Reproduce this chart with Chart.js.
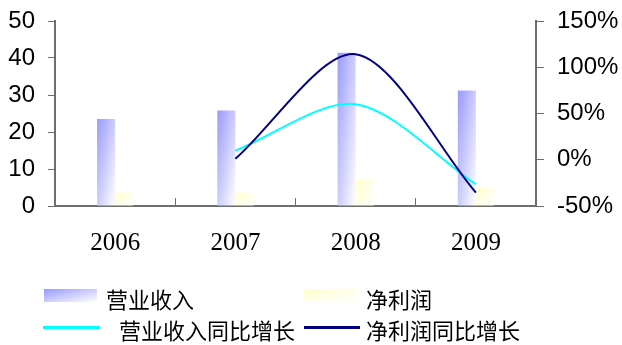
<!DOCTYPE html>
<html>
<head>
<meta charset="utf-8">
<script src="https://cdn.jsdelivr.net/npm/chart.js@4/dist/chart.umd.min.js"></script>
<style>
  html, body { margin: 0; padding: 0; background: #fff; }
  #wrap { position: relative; width: 622px; height: 345px; overflow: hidden; }
  #c { position: absolute; left: 0; top: 0; }
  .sw { position: absolute; }
  .lg-text { position: absolute; font-family: "Noto Sans CJK SC", sans-serif; font-size: 22px; line-height: 22px; color: #000; white-space: nowrap; }
</style>
</head>
<body>
<div id="wrap">
  <canvas id="c" width="622" height="345"></canvas>
</div>
<script>
// Yearly figures
const years = ['2006', '2007', '2008', '2009'];
const revenue = [23.5, 25.8, 41.4, 31.2];          // 营业收入
const netProfit = [3.6, 3.6, 7.2, 5.0];            // 净利润
const revenueGrowth = [null, 10, 60, -26.5];       // 营业收入同比增长 (%)
const profitGrowth = [null, 1, 114, -35.5];        // 净利润同比增长 (%)
const seriesNames = ['营业收入', '净利润', '营业收入同比增长', '净利润同比增长'];

const BAR_COLORS = ['#9999ff', '#ffffcc'];
const LINE_COLORS = ['#00ffff', '#000080'];
const AXIS_COLOR = '#6e6e6e';

// Corner-to-corner gradient for every bar: top-left colour fading to white at bottom-right
const barGradientPlugin = {
  id: 'barGradient',
  beforeDatasetsDraw(chart) {
    const ctx = chart.ctx;
    chart.data.datasets.forEach((ds, di) => {
      if (ds.type !== 'bar') return;
      const meta = chart.getDatasetMeta(di);
      meta.data.forEach(el => {
        const p = el.getProps(['x', 'y', 'base', 'width'], true);
        const w = p.width, h = Math.abs(p.base - p.y);
        if (!w || !h) return;
        const x0 = p.x - w / 2, y0 = Math.min(p.y, p.base);
        const k = 2 * w * h / (w * w + h * h);
        const g = ctx.createLinearGradient(x0, y0, x0 + k * h, y0 + k * w);
        g.addColorStop(0, ds.gradientFrom);
        g.addColorStop(1, '#ffffff');
        el.options = Object.assign({}, el.options, { backgroundColor: g });
      });
    });
  }
};

// Value axes keep a fixed width and do not push the plot area inwards
function fixedWidth(width) {
  return function (s) {
    s.width = width;
    s.paddingTop = 0;
    s.paddingBottom = 0;
  };
}

const chart = new Chart(document.getElementById('c'), {
  data: {
    labels: years,
    datasets: [
      { type: 'line', label: seriesNames[2], data: revenueGrowth, yAxisID: 'y1',
        borderColor: LINE_COLORS[0], borderWidth: 2, pointRadius: 0, tension: 0.3, order: 1 },
      { type: 'line', label: seriesNames[3], data: profitGrowth, yAxisID: 'y1',
        borderColor: LINE_COLORS[1], borderWidth: 2, pointRadius: 0, tension: 0.3, order: 0 },
      { type: 'bar', label: seriesNames[0], data: revenue, yAxisID: 'y',
        backgroundColor: () => BAR_COLORS[0], gradientFrom: BAR_COLORS[0], order: 2,
        barPercentage: 1.0, categoryPercentage: 0.3 },
      { type: 'bar', label: seriesNames[1], data: netProfit, yAxisID: 'y',
        backgroundColor: () => BAR_COLORS[1], gradientFrom: BAR_COLORS[1], order: 2,
        barPercentage: 1.0, categoryPercentage: 0.3 }
    ]
  },
  options: {
    responsive: false,
    animation: false,
    devicePixelRatio: 1,
    layout: { autoPadding: false, padding: { top: 21, bottom: 79, left: 0, right: 0 } },
    plugins: { legend: { display: false }, tooltip: { enabled: false } },
    scales: {
      x: {
        type: 'category',
        position: 'bottom',
        offset: true,
        grid: { display: true, offset: true, drawOnChartArea: false, drawTicks: true,
                tickLength: -8, color: AXIS_COLOR, lineWidth: 1 },
        border: { display: true, color: AXIS_COLOR, width: 2 },
        ticks: { color: '#000', padding: 30, maxRotation: 0, autoSkip: false,
                 font: { family: '"Liberation Serif", "DejaVu Serif", serif', size: 25 } },
        afterFit(s) { s.height = 60; s.paddingLeft = 0; s.paddingRight = 0; }
      },
      y: {
        type: 'linear',
        position: 'left',
        min: 0, max: 50,
        ticks: { stepSize: 10, color: '#000', padding: 13,
                 font: { family: '"Liberation Sans", Arial, sans-serif', size: 24 } },
        grid: { drawOnChartArea: false, drawTicks: true, tickLength: 7, color: AXIS_COLOR },
        border: { display: true, color: AXIS_COLOR, width: 2 },
        afterFit: fixedWidth(55)
      },
      y1: {
        type: 'linear',
        position: 'right',
        min: -50, max: 150,
        ticks: { stepSize: 50, color: '#000', padding: 13,
                 callback: v => v + '%',
                 font: { family: '"Liberation Sans", Arial, sans-serif', size: 24 } },
        grid: { drawOnChartArea: false, drawTicks: true, tickLength: 8, color: AXIS_COLOR },
        border: { display: true, color: AXIS_COLOR, width: 2 },
        afterFit: fixedWidth(86)
      }
    }
  },
  plugins: [barGradientPlugin]
});

// Legend built from the datasets
(function buildLegend() {
  const wrap = document.getElementById('wrap');
  const slots = [
    { ds: 2, kind: 'box',  left: 44,  top: 289, w: 53, h: 13, textLeft: 106, textTop: 287 },
    { ds: 3, kind: 'box',  left: 304, top: 289, w: 53, h: 13, textLeft: 366, textTop: 287 },
    { ds: 0, kind: 'line', left: 43,  top: 326, w: 57, h: 3,  textLeft: 119, textTop: 318 },
    { ds: 1, kind: 'line', left: 304, top: 326, w: 56, h: 3,  textLeft: 366, textTop: 318 }
  ];
  slots.forEach(s => {
    const ds = chart.data.datasets[s.ds];
    const sw = document.createElement('div');
    sw.className = 'sw';
    Object.assign(sw.style, { left: s.left + 'px', top: s.top + 'px', width: s.w + 'px', height: s.h + 'px' });
    sw.style.background = s.kind === 'box'
      ? 'linear-gradient(to bottom right, ' + ds.gradientFrom + ', #ffffff)'
      : ds.borderColor;
    wrap.appendChild(sw);
    const t = document.createElement('div');
    t.className = 'lg-text';
    t.textContent = ds.label;
    Object.assign(t.style, { left: s.textLeft + 'px', top: s.textTop + 'px' });
    wrap.appendChild(t);
  });
})();
</script>
</body>
</html>
